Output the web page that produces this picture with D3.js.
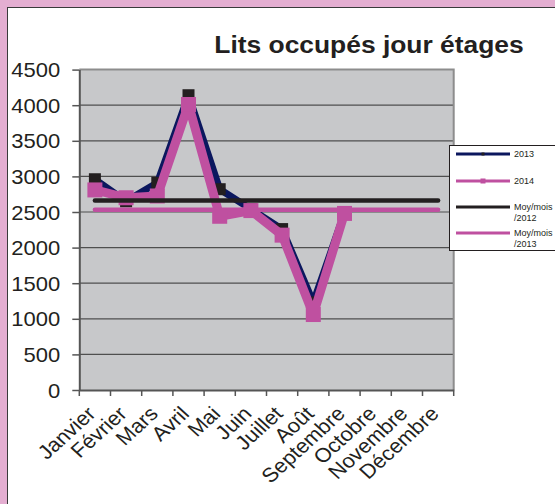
<!DOCTYPE html>
<html>
<head>
<meta charset="utf-8">
<script src="https://cdn.jsdelivr.net/npm/d3@7"></script>
<style>
  html, body { margin: 0; padding: 0; background: #e4aed1; }
  svg { display: block; }
</style>
</head>
<body>
<div id="chart"></div>
<script>
// ---- data ----
const months = ["Janvier", "Février", "Mars", "Avril", "Mai", "Juin", "Juillet", "Août",
    "Septembre", "Octobre", "Novembre", "Décembre"];
const values2013 = [2960, 2650, 2910, 4140, 2820, 2540, 2260, 1230, 2490];
const values2014 = [2810, 2700, 2725, 4010, 2440, 2520, 2175, 1060, 2480];
const moyMois2012 = [2660, 2660, 2660, 2660, 2660, 2660, 2660, 2660, 2660, 2660, 2660, 2660];
const moyMois2013 = [2530, 2530, 2530, 2530, 2530, 2530, 2530, 2530, 2530, 2530, 2530, 2530];
const yTicks = [0, 500, 1000, 1500, 2000, 2500, 3000, 3500, 4000, 4500];
const legendLabels = [["2013"], ["2014"], ["Moy/mois", "/2012"], ["Moy/mois", "/2013"]];

const W = 555, H = 504;
const SX = 1.1; // the original picture is a little wider than tall
const FONT = "'Liberation Sans', Arial, sans-serif";

const NAVY = "#0b175e", PINK = "#bf50a0", BLACK = "#231f20", PLOT_BG = "#c7c8ca";

const plot = { left: 79.3, right: 453.7, top: 69.6, bottom: 390 };

const svg = d3.select("#chart").append("svg")
    .attr("width", W)
    .attr("height", H);

// frame
svg.append("rect").attr("width", W).attr("height", H).attr("fill", "#e4aed1");
svg.append("rect")
    .attr("x", 7.5).attr("y", 7.5)
    .attr("width", W + 10).attr("height", H + 10)
    .attr("fill", "#ffffff")
    .attr("stroke", "#3a3a3a")
    .attr("stroke-width", 1);

// scales
const x = d3.scaleBand().domain(months).range([plot.left, plot.right]).padding(0);
const y = d3.scaleLinear().domain([0, 4500]).range([plot.bottom, plot.top]);
const cx = (d, i) => x(months[i]) + x.bandwidth() / 2;

// plot area
svg.append("rect")
    .attr("x", plot.left).attr("y", plot.top)
    .attr("width", plot.right - plot.left).attr("height", plot.bottom - plot.top)
    .attr("fill", PLOT_BG);

svg.append("g")
    .selectAll("line")
    .data(yTicks.filter(v => v > 0 && v < 4500))
    .join("line")
    .attr("x1", plot.left).attr("x2", plot.right)
    .attr("y1", d => y(d)).attr("y2", d => y(d))
    .attr("stroke", "#4f4f4f")
    .attr("stroke-width", 1.2);

// top / right border
svg.append("path")
    .attr("d", `M${plot.left},${y(4500)}H${plot.right}V${plot.bottom}`)
    .attr("fill", "none")
    .attr("stroke", "#8d8d8d")
    .attr("stroke-width", 2);

// y axis
const yAxis = svg.append("g")
    .attr("transform", `translate(${plot.left},0)`)
    .call(d3.axisLeft(y).tickValues(yTicks).tickFormat(d3.format("d")).tickSize(7).tickSizeOuter(0));
yAxis.select(".domain").attr("stroke", "#555").attr("stroke-width", 2);
yAxis.selectAll(".tick line").attr("stroke", "#555").attr("stroke-width", 1.5);
yAxis.selectAll(".tick text")
    .attr("x", null).attr("dy", null)
    .attr("transform", `translate(-19,7) scale(${SX},1)`)
    .attr("text-anchor", "end")
    .attr("fill", "#231f20")
    .style("font-family", FONT)
    .style("font-size", "20px");

// x axis: ticks on band edges, labels at band centres
const xAxis = svg.append("g")
    .attr("transform", `translate(0,${plot.bottom})`)
    .call(d3.axisBottom(x).tickSize(0).tickSizeOuter(0));
xAxis.select(".domain").attr("stroke", "#555").attr("stroke-width", 2);
xAxis.selectAll(".tick text")
    .attr("y", null).attr("dy", null)
    .attr("transform", `translate(2,25) scale(${SX},1) rotate(-45)`)
    .attr("text-anchor", "end")
    .attr("fill", "#231f20")
    .style("font-family", FONT)
    .style("font-size", "20px");

const edges = months.map(m => x(m)).concat([plot.right]);
svg.append("g")
    .selectAll("line")
    .data(edges)
    .join("line")
    .attr("x1", d => d).attr("x2", d => d)
    .attr("y1", plot.bottom).attr("y2", plot.bottom + 6)
    .attr("stroke", "#555")
    .attr("stroke-width", 1.5);

// series
const line = d3.line().x(cx).y(d => y(d));

function drawSeries(values, color, width, markColor, markSize) {
    svg.append("path")
        .datum(values)
        .attr("d", line)
        .attr("fill", "none")
        .attr("stroke", color)
        .attr("stroke-width", width)
        .attr("stroke-linejoin", "round");
    svg.append("g")
        .selectAll("rect")
        .data(values)
        .join("rect")
        .attr("x", (d, i) => cx(d, i) - markSize / 2)
        .attr("y", d => y(d) - markSize / 2)
        .attr("width", markSize)
        .attr("height", markSize)
        .attr("fill", markColor);
}

drawSeries(values2013, NAVY, 7, BLACK, 12);
drawSeries(values2014, PINK, 9, PINK, 15);

svg.append("path")
    .datum(moyMois2012)
    .attr("d", line)
    .attr("fill", "none")
    .attr("stroke", BLACK)
    .attr("stroke-width", 4.5)
    .attr("stroke-linecap", "round");

svg.append("path")
    .datum(moyMois2013)
    .attr("d", line)
    .attr("fill", "none")
    .attr("stroke", PINK)
    .attr("stroke-width", 4.5)
    .attr("stroke-linecap", "round");

// title
svg.append("text")
    .attr("transform", `translate(369,53) scale(${SX},1)`)
    .attr("text-anchor", "middle")
    .attr("fill", "#231f20")
    .style("font-family", FONT)
    .style("font-weight", "bold")
    .style("font-size", "24px")
    .text("Lits occupés jour étages");

// legend
const legend = svg.append("g");
legend.append("rect")
    .attr("x", 449.5).attr("y", 145.5)
    .attr("width", 120).attr("height", 105)
    .attr("fill", "#ffffff")
    .attr("stroke", "#231f20")
    .attr("stroke-width", 1);

const legendColors = [NAVY, PINK, BLACK, PINK];
const legendRows = [154, 181, 207, 233];
legendLabels.forEach((lab, i) => {
    const g = legend.append("g").attr("transform", `translate(0,${legendRows[i]})`);
    g.append("line")
        .attr("x1", 456).attr("x2", 510)
        .attr("stroke", legendColors[i])
        .attr("stroke-width", 3);
    if (i === 0) {
        g.append("rect").attr("x", 481.5).attr("y", -1.5).attr("width", 3).attr("height", 3).attr("fill", BLACK);
    }
    if (i === 1) {
        g.append("rect").attr("x", 480.5).attr("y", -2.5).attr("width", 5).attr("height", 5).attr("fill", PINK);
    }
    lab.forEach((t, j) => {
        g.append("text")
            .attr("x", 514)
            .attr("y", j * 10.5 + 3.2)
            .attr("fill", "#231f20")
            .style("font-family", FONT)
            .style("font-size", "9px")
            .text(t);
    });
});
</script>
</body>
</html>
